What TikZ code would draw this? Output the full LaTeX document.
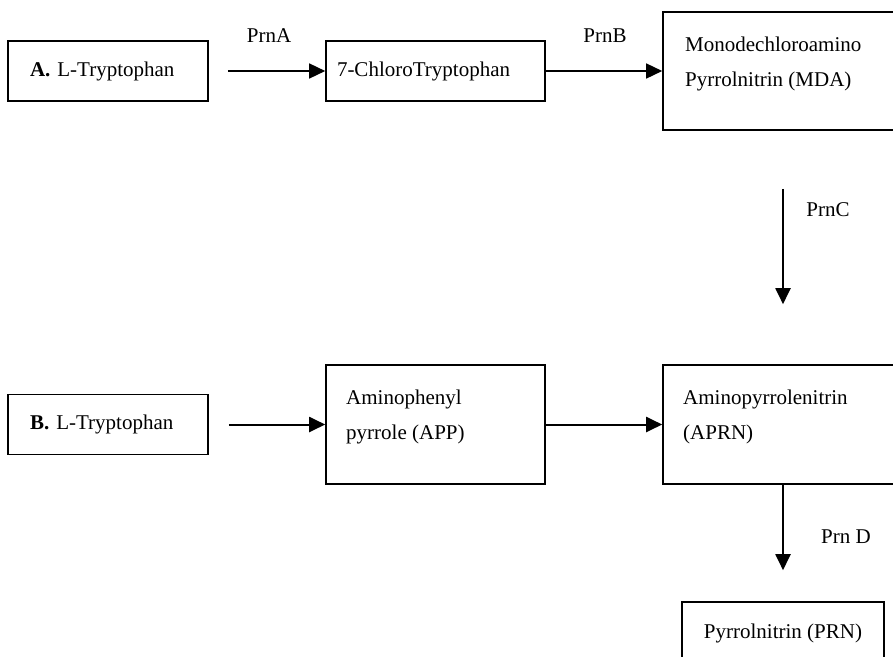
\documentclass[tikz,border=0pt]{standalone}
\usepackage{fontspec}
\setmainfont{Liberation Serif}
\usetikzlibrary{arrows.meta}
\tikzset{
  stepbox/.style={draw,line width=1.6pt,inner sep=0pt},
  steptext/.style={anchor=north west,inner sep=0pt,align=left},
  flow/.style={-{Triangle[length=16pt,width=15pt]},line width=2pt},
}
\begin{document}
\begin{tikzpicture}[x=1pt,y=-1pt,line join=miter,font=\fontsize{21}{35}\selectfont]
	\useasboundingbox (0,0) rectangle (893,656);
	% pathway A
	\node[stepbox,minimum width=200,minimum height=60,inner xsep=22,text width=156,align=left] (trpA) at (108,71) {\textbf{A.} L-Tryptophan};
	\node[stepbox,minimum width=219,minimum height=60,inner xsep=11,text width=197,align=left] (chloro) at (435.5,71) {7-ChloroTryptophan};
	\node[stepbox,minimum width=240,minimum height=118] (mda) at (783,71) {};
	\node[steptext] (mdaT) at (685,36.5) {Monodechloroamino\\Pyrrolnitrin (MDA)};
	% pathway B
	\node[stepbox,minimum width=200,minimum height=60,inner xsep=22,text width=156,align=left] (trpB) at (108,424.5) {\textbf{B.} L-Tryptophan};
	\node[stepbox,minimum width=219,minimum height=119] (app) at (435.5,424.5) {};
	\node[steptext] (appT) at (346,389.5) {Aminophenyl\\pyrrole (APP)};
	\node[stepbox,minimum width=240,minimum height=119] (aprn) at (783,424.5) {};
	\node[steptext] (aprnT) at (683,389.5) {Aminopyrrolenitrin\\(APRN)};
	\node[stepbox,minimum width=202,minimum height=62] (prn) at (783,633) {Pyrrolnitrin (PRN)};
	% connectors
	\draw[flow,line width=1.5pt,shorten <=19pt] (trpA.east) -- (chloro.west);
	\draw[flow,line width=1.5pt] (chloro.east) -- (mda.west);
	\draw[line width=2.6pt] (chloro.east) -- ++(18,0);
	\draw[flow,shorten <=58pt,shorten >=60pt] (mda.south) -- (aprn.north);
	\draw[flow,shorten <=20pt] (trpB.east) -- (app.west);
	\draw[flow] (app.east) -- (aprn.west);
	\draw[flow,shorten >=31pt] (aprn.south) -- (prn.north);
	\foreach \n/\t/\x/\y in {prnA/PrnA/269/36,prnB/PrnB/605/36,prnC/PrnC/828/210,prnD/Prn D/846/537}
		\node (\n) at (\x,\y) {\t};
\end{tikzpicture}
\end{document}
